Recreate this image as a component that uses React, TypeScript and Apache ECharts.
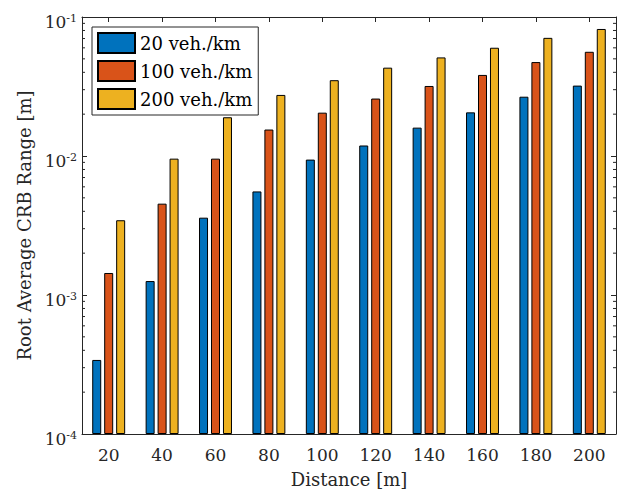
import React, { useEffect, useRef } from 'react';
import * as echarts from 'echarts';

const categories = ['20', '40', '60', '80', '100', '120', '140', '160', '180', '200'];
const seriesNames = ['20 veh./km', '100 veh./km', '200 veh./km'];
const values20 = [0.000341, 0.00126, 0.0036, 0.00556, 0.00942, 0.0119, 0.016, 0.0206, 0.0267, 0.0321];
const values100 = [0.00144, 0.00454, 0.00957, 0.0155, 0.0205, 0.0259, 0.0319, 0.0383, 0.0474, 0.0562];
const values200 = [0.00345, 0.00957, 0.019, 0.0275, 0.0351, 0.0432, 0.0512, 0.0601, 0.0708, 0.082];
const colors = ['#0072BD', '#D95319', '#EDB120'];
const yMin = 1e-4;
const yMax = 1e-1;
const minorDecades = [1e-4, 1e-3, 1e-2];
const minorMultipliers = [2, 3, 4, 5, 6, 7, 8, 9];

const FONT = 'DejaVu Serif';
const AXIS_COLOR = '#262626';

export default function App() {
  const ref = useRef<HTMLDivElement>(null);
  useEffect(() => {
    if (!ref.current) return;
    const chart = echarts.init(ref.current, undefined, { renderer: 'svg' });
    const minorTicks: number[][] = [];
    minorDecades.forEach((d) => minorMultipliers.forEach((m) => minorTicks.push([0, m * d])));
    const allValues = [values20, values100, values200];
    const option: any = {
      animation: false,
      backgroundColor: '#fff',
      textStyle: { fontFamily: FONT },
      grid: { left: 82, top: 17, right: 13, bottom: 56, containLabel: false },
      legend: {
        data: seriesNames,
        left: 92,
        top: 27,
        orient: 'vertical',
        itemWidth: 37,
        itemHeight: 20,
        itemGap: 6,
        padding: [5, 6, 5, 5],
        backgroundColor: '#fff',
        borderColor: AXIS_COLOR,
        borderWidth: 1,
        icon: 'rect',
        textStyle: { fontFamily: FONT, fontSize: 18, color: '#000', lineHeight: 20, height: 20 },
      },
      xAxis: [
        {
          type: 'category',
          data: categories,
          position: 'bottom',
          name: 'Distance [m]',
          nameLocation: 'middle',
          nameGap: 36,
          nameTextStyle: { fontFamily: FONT, fontSize: 18, color: AXIS_COLOR },
          axisLine: { show: true, lineStyle: { color: AXIS_COLOR, width: 1 } },
          axisTick: { show: true, inside: true, alignWithLabel: true, length: 5, lineStyle: { color: AXIS_COLOR } },
          axisLabel: { fontFamily: FONT, fontSize: 17, color: AXIS_COLOR, margin: 12 },
          splitLine: { show: false },
        },
        {
          type: 'category',
          data: categories,
          position: 'top',
          axisLine: { show: true, lineStyle: { color: AXIS_COLOR, width: 1 } },
          axisTick: { show: true, inside: true, alignWithLabel: true, length: 5, lineStyle: { color: AXIS_COLOR } },
          axisLabel: { show: false },
          splitLine: { show: false },
        },
      ],
      yAxis: [
        {
          type: 'log',
          logBase: 10,
          min: yMin,
          max: yMax,
          startValue: yMin,
          position: 'left',
          name: 'Root Average CRB Range [m]',
          nameLocation: 'middle',
          nameGap: 46,
          nameRotate: 90,
          nameTextStyle: { fontFamily: FONT, fontSize: 18, color: AXIS_COLOR },
          axisLine: { show: true, lineStyle: { color: AXIS_COLOR, width: 1 } },
          axisTick: { show: true, inside: true, length: 5, lineStyle: { color: AXIS_COLOR } },
          splitLine: { show: false },
          axisLabel: {
            margin: 5,
            padding: [9, 0, 0, 0],
            formatter: (v: number) => `{b|10}{s|-${Math.round(-Math.log10(v))}}`,
            rich: {
              b: { fontFamily: FONT, fontSize: 17, color: AXIS_COLOR, verticalAlign: 'bottom' },
              s: { fontFamily: FONT, fontSize: 11, color: AXIS_COLOR, verticalAlign: 'bottom', padding: [0, 0, 6, 0] },
            },
          },
        },
        {
          type: 'log',
          logBase: 10,
          min: yMin,
          max: yMax,
          position: 'right',
          axisLine: { show: true, lineStyle: { color: AXIS_COLOR, width: 1 } },
          axisTick: { show: true, inside: true, length: 5, lineStyle: { color: AXIS_COLOR } },
          axisLabel: { show: false },
          splitLine: { show: false },
        },
      ],
      series: [
        ...seriesNames.map((name, i) => ({
          name,
          type: 'bar',
          xAxisIndex: 0,
          yAxisIndex: 0,
          data: allValues[i],
          barWidth: 9,
          barGap: '33%',
          itemStyle: { color: colors[i], borderColor: '#000', borderWidth: 1 },
          emphasis: { disabled: true },
        })),
        {
          type: 'custom',
          name: 'minor',
          xAxisIndex: 0,
          yAxisIndex: 0,
          silent: true,
          clip: false,
          data: minorTicks,
          renderItem: (params: any, api: any) => {
            const y = api.coord([0, api.value(1)])[1];
            const cs = params.coordSys;
            return {
              type: 'group',
              children: [
                { type: 'line', shape: { x1: cs.x, y1: y, x2: cs.x + 3, y2: y }, style: { stroke: AXIS_COLOR, lineWidth: 1 } },
                { type: 'line', shape: { x1: cs.x + cs.width - 3, y1: y, x2: cs.x + cs.width, y2: y }, style: { stroke: AXIS_COLOR, lineWidth: 1 } },
              ],
            };
          },
        },
      ],
    };
    chart.setOption(option);
    return () => chart.dispose();
  }, []);
  return <div ref={ref} style={{ position: 'absolute', left: 0, top: 0, width: 629, height: 493 }} />;
}
